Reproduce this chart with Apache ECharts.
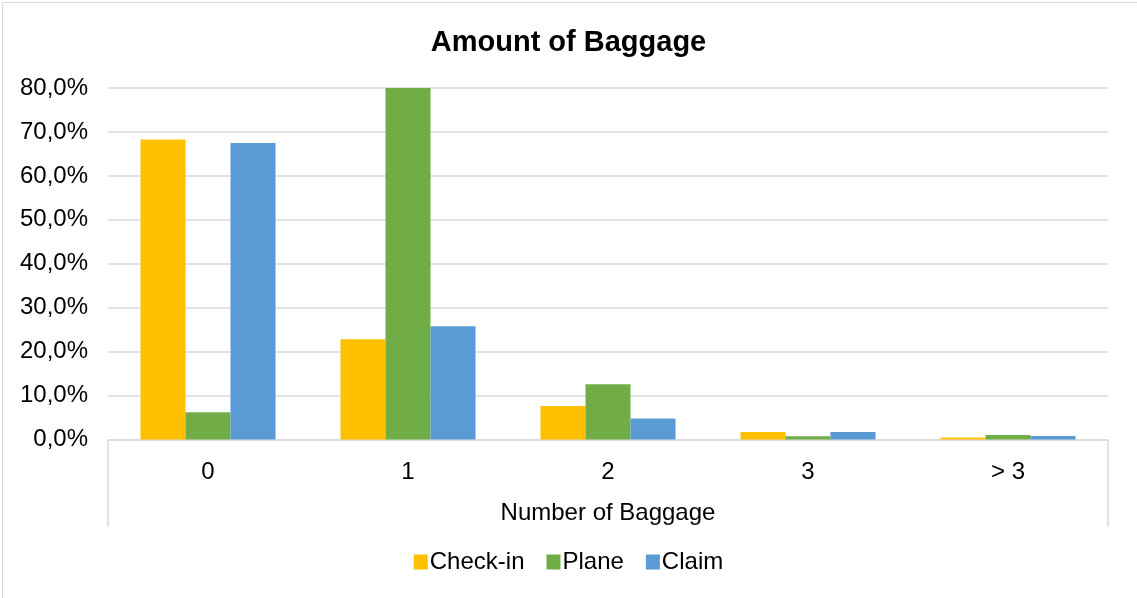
<!DOCTYPE html>
<html>
<head>
<meta charset="utf-8">
<script src="https://cdn.jsdelivr.net/npm/echarts@6/dist/echarts.min.js"></script>
<style>
  html, body { margin: 0; padding: 0; background: #fff; }
  #chart { width: 1137px; height: 598px; }
</style>
</head>
<body>
<div id="chart"></div>
<script>
// Share of passengers by number of bags (percent)
const categories = ['0', '1', '2', '3', '> 3'];
const checkIn = [68.3, 22.8, 7.6, 1.7, 0.45];
const plane   = [6.2, 80.0, 12.6, 0.75, 1.05];
const claim   = [67.5, 25.8, 4.8, 1.7, 0.8];
const yTicks  = { min: 0, max: 80, interval: 10 };

const FONT = '"Liberation Sans", Arial, sans-serif';
const fmtPct = v => v.toFixed(1).replace('.', ',') + '%';

const chart = echarts.init(document.getElementById('chart'), null, { renderer: 'canvas' });

chart.setOption({
  backgroundColor: '#ffffff',
  animation: false,
  textStyle: { fontFamily: FONT },
  graphic: [{
    type: 'rect',
    left: 0, top: 0,
    shape: { x: 0.5, y: 0.5, width: 1136, height: 597 },
    style: { fill: 'none', stroke: '#d9d9d9', lineWidth: 1 },
    silent: true
  }],
  title: {
    text: 'Amount of Baggage',
    left: 'center',
    top: 23,
    textStyle: { fontFamily: FONT, fontSize: 29, fontWeight: 'bold', color: '#000' }
  },
  legend: {
    data: ['Check-in', 'Plane', 'Claim'],
    bottom: 19,
    left: 'center',
    icon: 'rect',
    itemWidth: 14,
    itemHeight: 15,
    itemGap: 22,
    textStyle: { fontFamily: FONT, fontSize: 24, color: '#000', padding: [0, 0, 0, -3] }
  },
  grid: { left: 108, right: 29, top: 88, bottom: 158.5, containLabel: false },
  xAxis: {
    type: 'category',
    data: categories,
    name: 'Number of Baggage',
    nameLocation: 'middle',
    nameGap: 62,
    nameTextStyle: { fontFamily: FONT, fontSize: 24, color: '#000', verticalAlign: 'top' },
    axisLine: { lineStyle: { color: '#d9d9d9', width: 1.5 } },
    axisTick: {
      show: true,
      length: 87,
      lineStyle: { color: '#d9d9d9', width: 1.5 },
      interval: (i) => i === 0 || i === categories.length
    },
    axisLabel: { fontFamily: FONT, fontSize: 24, color: '#000', margin: 21 }
  },
  yAxis: {
    type: 'value',
    min: yTicks.min,
    max: yTicks.max,
    interval: yTicks.interval,
    axisLine: { show: false },
    axisTick: { show: false },
    axisLabel: { fontFamily: FONT, fontSize: 24, color: '#000', margin: 20, padding: [3, 0, 0, 0], formatter: fmtPct },
    splitLine: { lineStyle: { color: '#d9d9d9', width: 1.5 } }
  },
  series: [
    { name: 'Check-in', type: 'bar', data: checkIn, itemStyle: { color: '#ffc000' }, barGap: '0%', barCategoryGap: '32.5%' },
    { name: 'Plane', type: 'bar', data: plane, itemStyle: { color: '#70ad47' }, barGap: '0%', barCategoryGap: '32.5%' },
    { name: 'Claim', type: 'bar', data: claim, itemStyle: { color: '#5b9bd5' }, barGap: '0%', barCategoryGap: '32.5%' }
  ]
});
</script>
</body>
</html>
